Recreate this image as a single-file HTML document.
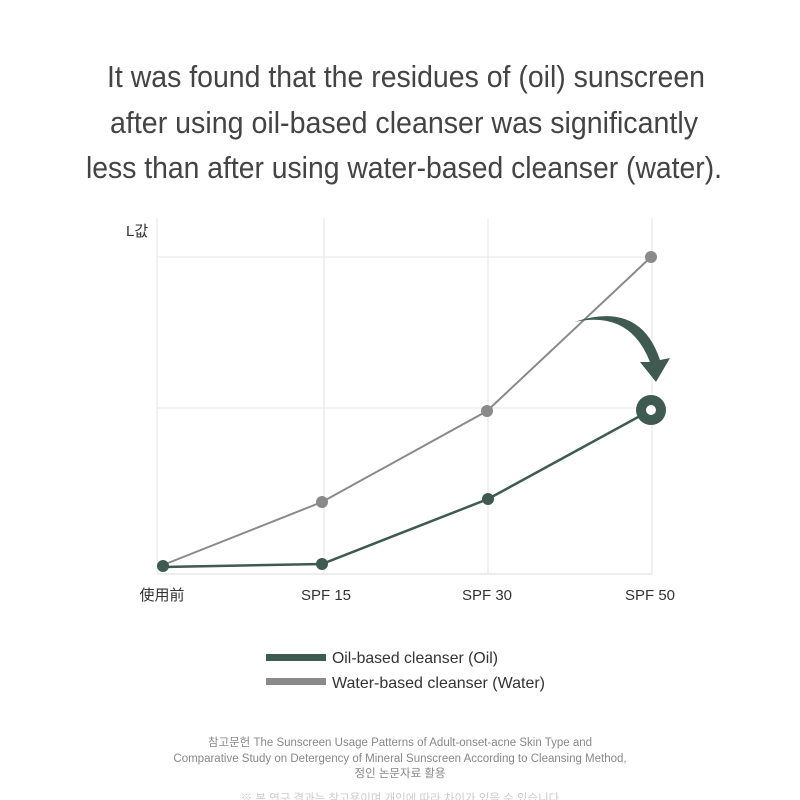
<!DOCTYPE html>
<html><head><meta charset="utf-8"><style>
html,body{margin:0;padding:0;background:#fff;}
svg{display:block;}
text{font-family:"Liberation Sans","Noto Sans CJK KR",sans-serif;}
</style></head><body>
<svg width="800" height="800" viewBox="0 0 800 800">
<g fill="#444" font-size="31">
<text x="107" y="87" textLength="598" lengthAdjust="spacingAndGlyphs">It was found that the residues of (oil) sunscreen</text>
<text x="110" y="133" textLength="588" lengthAdjust="spacingAndGlyphs">after using oil-based cleanser was significantly</text>
<text x="86" y="178" textLength="636" lengthAdjust="spacingAndGlyphs">less than after using water-based cleanser (water).</text>
</g>
<g stroke="#e6e6e6" stroke-width="1">
<line x1="157" y1="218" x2="157" y2="574"/>
<line x1="324" y1="218" x2="324" y2="574"/>
<line x1="488" y1="218" x2="488" y2="574"/>
<line x1="652" y1="218" x2="652" y2="574"/>
<line x1="157" y1="257" x2="652" y2="257"/>
<line x1="157" y1="408" x2="652" y2="408"/>
<line x1="157" y1="574" x2="652" y2="574" stroke="#ddd"/>
</g>
<text x="126" y="236" font-size="15" fill="#333">L값</text>
<polyline points="163,565 322,502 487,411 651,257" fill="none" stroke="#8a8a8a" stroke-width="2"/>
<g fill="#8a8a8a"><circle cx="322" cy="502" r="6"/><circle cx="487" cy="411" r="6"/><circle cx="651" cy="257" r="6"/></g>
<polyline points="163,567 322,564 488,499 651,410" fill="none" stroke="#3f5a50" stroke-width="2.5"/>
<g fill="#3f5a50"><circle cx="163" cy="566" r="6"/><circle cx="322" cy="564" r="6"/><circle cx="488" cy="499" r="6"/><circle cx="651" cy="410" r="15"/></g>
<circle cx="651" cy="410" r="5" fill="#fff"/>
<path d="M574,322 Q630,310 650,362 L640,362 L656,382 L670,358 L660,360 Q640,300 574,322 Z" fill="#3f5a50"/>
<g font-size="15" fill="#333" text-anchor="middle">
<text x="162" y="600">使用前</text>
<text x="326" y="600">SPF 15</text>
<text x="487" y="600">SPF 30</text>
<text x="650" y="600">SPF 50</text>
</g>
<rect x="266" y="654" width="60" height="7" fill="#3f5a50"/>
<rect x="266" y="678" width="60" height="7" fill="#8a8a8a"/>
<g font-size="16" fill="#333">
<text x="332" y="663" textLength="166" lengthAdjust="spacingAndGlyphs">Oil-based cleanser (Oil)</text>
<text x="332" y="688" textLength="213" lengthAdjust="spacingAndGlyphs">Water-based cleanser (Water)</text>
</g>
<g font-size="11.5" fill="#888" text-anchor="middle">
<text x="400" y="746">참고문헌 The Sunscreen Usage Patterns of Adult-onset-acne Skin Type and</text>
<text x="400" y="762">Comparative Study on Detergency of Mineral Sunscreen According to Cleansing Method,</text>
<text x="400" y="777">정인 논문자료 활용</text>
<text x="400" y="802" fill="#ccc">※ 본 연구 결과는 참고용이며 개인에 따라 차이가 있을 수 있습니다</text>
</g>
</svg>
</body></html>
